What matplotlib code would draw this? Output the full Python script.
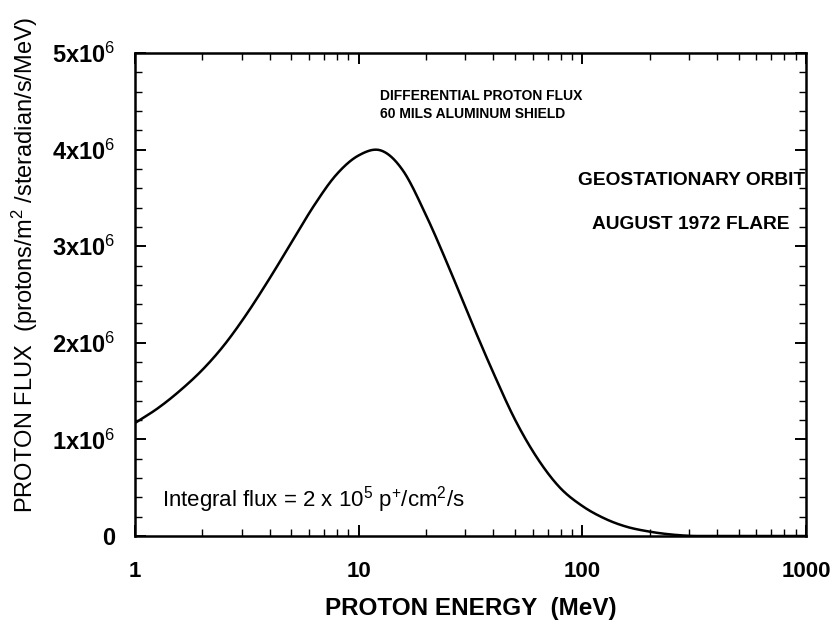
import matplotlib
matplotlib.use('Agg')
import matplotlib.pyplot as plt
import numpy as np
from matplotlib.ticker import FixedLocator, NullFormatter

plt.rcParams['font.family'] = ['Liberation Sans', 'DejaVu Sans']
plt.rcParams['mathtext.fontset'] = 'custom'
plt.rcParams['mathtext.rm'] = 'Liberation Sans'
plt.rcParams['mathtext.it'] = 'Liberation Sans'
plt.rcParams['mathtext.bf'] = 'Liberation Sans:bold'

# values (energy in MeV, flux per MeV)
energy = [1.0, 1.26, 1.58, 2.0, 2.51, 3.16, 3.98, 5.01, 6.31, 7.94,
          10.0, 12.6, 15.8, 20.0, 25.1, 31.6, 39.8, 50.1, 63.1, 79.4,
          100, 126, 158, 200, 251, 316, 398, 501, 631, 794, 1000]
flux = [1.17e6, 1.32e6, 1.50e6, 1.72e6, 1.98e6, 2.30e6, 2.66e6, 3.04e6,
        3.42e6, 3.74e6, 3.94e6, 3.99e6, 3.78e6, 3.32e6, 2.80e6, 2.24e6,
        1.70e6, 1.20e6, 0.80e6, 0.50e6, 0.31e6, 0.18e6, 0.095e6,
        0.045e6, 0.015e6, 0.0, 0.0, 0.0, 0.0, 0.0, 0.0]

x_ticks = [1, 10, 100, 1000]
x_tick_labels = ['1', '10', '100', '1000']
y_ticks = [0, 1e6, 2e6, 3e6, 4e6, 5e6]
y_tick_labels = ['0', r'1x10$^{6}$', r'2x10$^{6}$', r'3x10$^{6}$',
                 r'4x10$^{6}$', r'5x10$^{6}$']


def catmull_rom(xs, ys, n=30):
    xs = np.asarray(xs, float)
    ys = np.asarray(ys, float)
    px = np.concatenate([[2 * xs[0] - xs[1]], xs, [2 * xs[-1] - xs[-2]]])
    py = np.concatenate([[2 * ys[0] - ys[1]], ys, [2 * ys[-1] - ys[-2]]])
    out_x, out_y = [], []
    t = np.linspace(0, 1, n, endpoint=False)
    for i in range(1, len(px) - 2):
        for arr, out in ((px, out_x), (py, out_y)):
            p0, p1, p2, p3 = arr[i - 1], arr[i], arr[i + 1], arr[i + 2]
            out.append(0.5 * (2 * p1 + (-p0 + p2) * t
                              + (2 * p0 - 5 * p1 + 4 * p2 - p3) * t ** 2
                              + (-p0 + 3 * p1 - 3 * p2 + p3) * t ** 3))
    out_x.append([xs[-1]])
    out_y.append([ys[-1]])
    return np.concatenate(out_x), np.concatenate(out_y)


fig = plt.figure(figsize=(8.31, 6.43), dpi=100)
ax = fig.add_axes([0.1625, 0.1664, 0.8075, 0.7512])

sx, sy = catmull_rom(np.log10(energy), flux)
sy = np.clip(sy, 0, None)
ax.plot(10 ** sx, sy, color='black', lw=1.8)

ax.set_xscale('log')
ax.set_xlim(1, 1000)
ax.set_ylim(0, 5e6)

ax.xaxis.set_major_locator(FixedLocator(x_ticks))
ax.set_xticklabels(x_tick_labels)
ax.xaxis.set_minor_locator(FixedLocator(
    [m * d for d in (1, 10, 100) for m in range(2, 10)]))
ax.xaxis.set_minor_formatter(NullFormatter())
ax.yaxis.set_major_locator(FixedLocator(y_ticks))
ax.set_yticklabels(y_tick_labels)
ax.yaxis.set_minor_locator(FixedLocator(np.arange(0, 5.01e6, 0.2e6)))

ax.tick_params(which='both', direction='in', top=True, right=True,
               color='black')
ax.tick_params(which='major', length=8, width=1.4)
ax.tick_params(which='minor', length=5, width=1.0)
ax.tick_params(axis='x', which='major', pad=18, labelsize=16)
ax.tick_params(axis='y', which='major', pad=14, labelsize=17)
for lab in ax.get_xticklabels() + ax.get_yticklabels():
    lab.set_fontweight('bold')

for sp in ax.spines.values():
    sp.set_linewidth(1.8)

ax.set_xlabel('PROTON ENERGY  (MeV)', fontsize=17.5, fontweight='bold')
ax.xaxis.set_label_coords(0.5, -0.126)
ax.set_ylabel(r'PROTON FLUX  (protons/m$^{2}$ /steradian/s/MeV)',
              fontsize=17)
ax.yaxis.set_label_coords(-0.141, 0.561)

ax.text(0.365, 0.926, 'DIFFERENTIAL PROTON FLUX\n60 MILS ALUMINUM SHIELD',
        transform=ax.transAxes, fontsize=10, fontweight='bold',
        va='top', ha='left', linespacing=1.35)
ax.text(0.998, 0.735, 'GEOSTATIONARY ORBIT', transform=ax.transAxes,
        fontsize=13.8, fontweight='bold', va='center', ha='right')
ax.text(0.976, 0.645, 'AUGUST 1972 FLARE', transform=ax.transAxes,
        fontsize=13.8, fontweight='bold', va='center', ha='right')
ax.text(0.04, 0.075,
        r'Integral flux = 2 x 10$^{5}$ p$^{+}$/cm$^{2}$/s',
        transform=ax.transAxes, fontsize=16, va='center', ha='left')

fig.savefig('out.png', dpi=100)
